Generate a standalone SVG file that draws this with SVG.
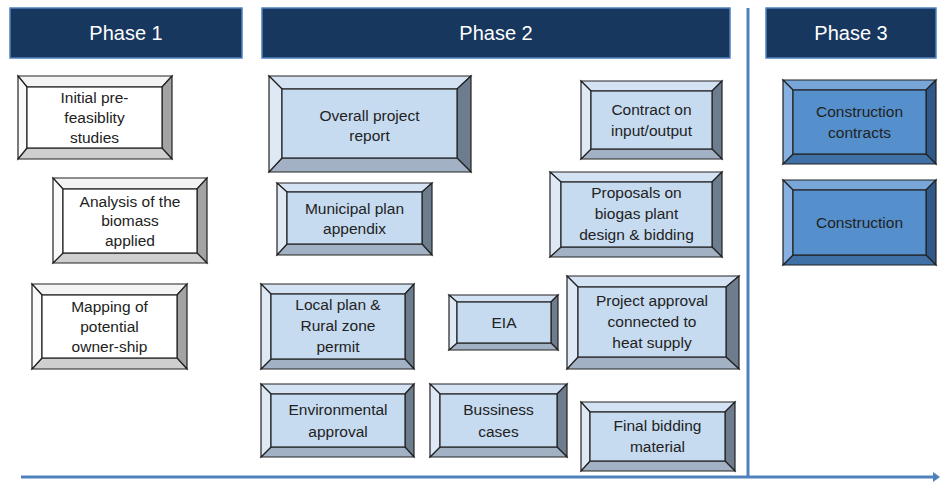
<svg xmlns="http://www.w3.org/2000/svg" width="940" height="485" viewBox="0 0 940 485">
<style>
text{font-family:"Liberation Sans",Arial,sans-serif;font-size:15.5px;fill:#222;text-anchor:middle}
.hd rect{fill:#17375e;stroke:#4f81bd;stroke-width:1.5}
.hd text{fill:#fff;font-size:20px}
polygon,rect.f{stroke:#222;stroke-width:1.2;stroke-linejoin:miter}
.w .t{fill:#f4f4f4}.w .l{fill:#fafafa}.w .r{fill:#a3a3a3}.w .b{fill:#cfcfcf}.w .f{fill:#fff}
.p .t{fill:#d4e3f4}.p .l{fill:#dfe9f6}.p .r{fill:#6e7d8e}.p .b{fill:#a2b2c4}.p .f{fill:#c6dbf0}
.d .t{fill:#78a6d9}.d .l{fill:#87b1e0}.d .r{fill:#30598a}.d .b{fill:#3f70a6}.d .f{fill:#5590cc}
.ax{stroke:#4f81bd;stroke-width:3;fill:none}
</style>
<defs>
<marker id="ah" markerWidth="7" markerHeight="10" refX="0" refY="5" orient="auto" markerUnits="userSpaceOnUse">
<path d="M0,0 L7,5 L0,10 Z" fill="#4f81bd"/>
</marker>
</defs>

<g id="headers">
<g id="phase1" class="hd"><rect x="10" y="8" width="232" height="50"/><text x="126" y="40">Phase 1</text></g>
<g id="phase2" class="hd"><rect x="262" y="8" width="468" height="50"/><text x="496" y="40">Phase 2</text></g>
<g id="phase3" class="hd"><rect x="766" y="8" width="170" height="50"/><text x="851" y="40">Phase 3</text></g>
</g>

<g id="connectors">
<line class="ax" x1="748" y1="8" x2="748" y2="477"/>
<line class="ax" x1="21" y1="477" x2="933" y2="477" marker-end="url(#ah)"/>
</g>

<g id="n1" class="w">
<polygon class="t" points="18,76 172,76 162,87 27,87"/>
<polygon class="r" points="172,76 172,159 162,148 162,87"/>
<polygon class="b" points="172,159 18,159 27,148 162,148"/>
<polygon class="l" points="18,159 18,76 27,87 27,148"/>
<rect class="f" x="27" y="87" width="135" height="61"/>
<text x="94.5" y="103">Initial pre-</text><text x="94.5" y="123">feasiblity</text><text x="94.5" y="143">studies</text>
</g>

<g id="n2" class="w">
<polygon class="t" points="53,178 207,178 197,189 63,189"/>
<polygon class="r" points="207,178 207,263 197,253 197,189"/>
<polygon class="b" points="207,263 53,263 63,253 197,253"/>
<polygon class="l" points="53,263 53,178 63,189 63,253"/>
<rect class="f" x="63" y="189" width="134" height="64"/>
<text x="130" y="206.5">Analysis of the</text><text x="130" y="226">biomass</text><text x="130" y="245.5">applied</text>
</g>

<g id="n3" class="w">
<polygon class="t" points="32,284 187,284 177,295 42,295"/>
<polygon class="r" points="187,284 187,369 177,358 177,295"/>
<polygon class="b" points="187,369 32,369 42,358 177,358"/>
<polygon class="l" points="32,369 32,284 42,295 42,358"/>
<rect class="f" x="42" y="295" width="135" height="63"/>
<text x="109.5" y="311.5">Mapping of</text><text x="109.5" y="331.5">potential</text><text x="109.5" y="351.5">owner-ship</text>
</g>

<g id="n4" class="p">
<polygon class="t" points="269,76 471,76 457,89 282,89"/>
<polygon class="r" points="471,76 471,172 457,158 457,89"/>
<polygon class="b" points="471,172 269,172 282,158 457,158"/>
<polygon class="l" points="269,172 269,76 282,89 282,158"/>
<rect class="f" x="282" y="89" width="175" height="69"/>
<text x="369.5" y="121">Overall project</text><text x="369.5" y="141">report</text>
</g>

<g id="n5" class="p">
<polygon class="t" points="277,183 432,183 422,192 287,192"/>
<polygon class="r" points="432,183 432,255 422,244 422,192"/>
<polygon class="b" points="432,255 277,255 287,244 422,244"/>
<polygon class="l" points="277,255 277,183 287,192 287,244"/>
<rect class="f" x="287" y="192" width="135" height="52"/>
<text x="354.5" y="213.5">Municipal plan</text><text x="354.5" y="234">appendix</text>
</g>

<g id="n6" class="p">
<polygon class="t" points="581,81 722,81 712,91 591,91"/>
<polygon class="r" points="722,81 722,159 712,149 712,91"/>
<polygon class="b" points="722,159 581,159 591,149 712,149"/>
<polygon class="l" points="581,159 581,81 591,91 591,149"/>
<rect class="f" x="591" y="91" width="121" height="58"/>
<text x="651.5" y="115">Contract on</text><text x="651.5" y="135.5">input/output</text>
</g>

<g id="n7" class="p">
<polygon class="t" points="550,172 722,172 712,182 561,182"/>
<polygon class="r" points="722,172 722,257 712,247 712,182"/>
<polygon class="b" points="722,257 550,257 561,247 712,247"/>
<polygon class="l" points="550,257 550,172 561,182 561,247"/>
<rect class="f" x="561" y="182" width="151" height="65"/>
<text x="636.5" y="198">Proposals on</text><text x="636.5" y="219">biogas plant</text><text x="636.5" y="240">design &amp; bidding</text>
</g>

<g id="n8" class="d">
<polygon class="t" points="783,80 936,80 926,90 793,90"/>
<polygon class="r" points="936,80 936,164 926,154 926,90"/>
<polygon class="b" points="936,164 783,164 793,154 926,154"/>
<polygon class="l" points="783,164 783,80 793,90 793,154"/>
<rect class="f" x="793" y="90" width="133" height="64"/>
<text x="859.5" y="117">Construction</text><text x="859.5" y="138">contracts</text>
</g>

<g id="n9" class="d">
<polygon class="t" points="783,180 936,180 926,190 793,190"/>
<polygon class="r" points="936,180 936,265 926,255 926,190"/>
<polygon class="b" points="936,265 783,265 793,255 926,255"/>
<polygon class="l" points="783,265 783,180 793,190 793,255"/>
<rect class="f" x="793" y="190" width="133" height="65"/>
<text x="859.5" y="228">Construction</text>
</g>

<g id="n10" class="p">
<polygon class="t" points="261,284 414,284 405,294 271,294"/>
<polygon class="r" points="414,284 414,369 405,359 405,294"/>
<polygon class="b" points="414,369 261,369 271,359 405,359"/>
<polygon class="l" points="261,369 261,284 271,294 271,359"/>
<rect class="f" x="271" y="294" width="134" height="65"/>
<text x="338" y="310">Local plan &amp;</text><text x="338" y="331">Rural zone</text><text x="338" y="351.5">permit</text>
</g>

<g id="n11" class="p">
<polygon class="t" points="449,295 558,295 551,302 457,302"/>
<polygon class="r" points="558,295 558,350 551,343 551,302"/>
<polygon class="b" points="558,350 449,350 457,343 551,343"/>
<polygon class="l" points="449,350 449,295 457,302 457,343"/>
<rect class="f" x="457" y="302" width="94" height="41"/>
<text x="504" y="327.5">EIA</text>
</g>

<g id="n12" class="p">
<polygon class="t" points="567,276 739,276 726,287 578,287"/>
<polygon class="r" points="739,276 739,369 726,357 726,287"/>
<polygon class="b" points="739,369 567,369 578,357 726,357"/>
<polygon class="l" points="567,369 567,276 578,287 578,357"/>
<rect class="f" x="578" y="287" width="148" height="70"/>
<text x="652" y="306">Project approval</text><text x="652" y="327">connected to</text><text x="652" y="348">heat supply</text>
</g>

<g id="n13" class="p">
<polygon class="t" points="261,384 414,384 405,394 271,394"/>
<polygon class="r" points="414,384 414,457 405,447 405,394"/>
<polygon class="b" points="414,457 261,457 271,447 405,447"/>
<polygon class="l" points="261,457 261,384 271,394 271,447"/>
<rect class="f" x="271" y="394" width="134" height="53"/>
<text x="338" y="415">Environmental</text><text x="338" y="436.5">approval</text>
</g>

<g id="n14" class="p">
<polygon class="t" points="430,384 567,384 557,394 440,394"/>
<polygon class="r" points="567,384 567,457 557,447 557,394"/>
<polygon class="b" points="567,457 430,457 440,447 557,447"/>
<polygon class="l" points="430,457 430,384 440,394 440,447"/>
<rect class="f" x="440" y="394" width="117" height="53"/>
<text x="498.5" y="415">Bussiness</text><text x="498.5" y="436.5">cases</text>
</g>

<g id="n15" class="p">
<polygon class="t" points="581,402 735,402 725,412 590,412"/>
<polygon class="r" points="735,402 735,471 725,461 725,412"/>
<polygon class="b" points="735,471 581,471 590,461 725,461"/>
<polygon class="l" points="581,471 581,402 590,412 590,461"/>
<rect class="f" x="590" y="412" width="135" height="49"/>
<text x="657.5" y="431">Final bidding</text><text x="657.5" y="451.5">material</text>
</g>
</svg>
